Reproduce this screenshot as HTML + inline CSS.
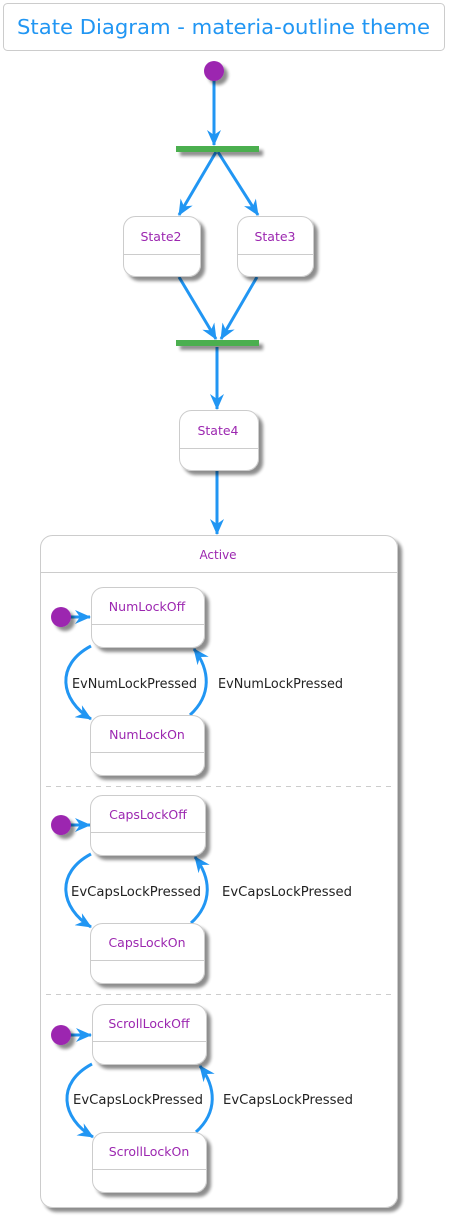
<!DOCTYPE html>
<html><head><meta charset="utf-8"><style>html,body{margin:0;padding:0;background:#fff}svg{display:block}</style></head>
<body>
<svg width="455" height="1218" viewBox="0 0 455 1218" xmlns="http://www.w3.org/2000/svg" font-family="'DejaVu Sans','Liberation Sans',sans-serif">
<defs>
<filter id="sh" x="-20%" y="-20%" width="150%" height="150%"><feGaussianBlur in="SourceAlpha" stdDeviation="1.5"/><feOffset dx="4" dy="4"/><feComponentTransfer><feFuncA type="linear" slope="0.45"/></feComponentTransfer><feMerge><feMergeNode/><feMergeNode in="SourceGraphic"/></feMerge></filter>
<marker id="ah" viewBox="0 0 16 14" refX="15" refY="7" markerWidth="16" markerHeight="14" markerUnits="userSpaceOnUse" orient="auto"><path d="M0,0 L16,7 L0,14 L5,7 Z" fill="#2196F3"/></marker>
</defs>
<rect x="3.5" y="3.5" width="441" height="47" rx="4" fill="#fff" stroke="#ccc"/>
<text x="17" y="34" font-size="20" fill="#2196F3" textLength="413" lengthAdjust="spacingAndGlyphs">State Diagram - materia-outline theme</text>

<g filter="url(#sh)" fill="#fff" stroke="#ccc">
<rect x="40.5" y="535.5" width="357" height="672" rx="12"/>
</g>
<line x1="40.5" y1="572.5" x2="397.5" y2="572.5" stroke="#ccc"/>
<line x1="46" y1="786.5" x2="392" y2="786.5" stroke="#ccc" stroke-dasharray="5,5"/>
<line x1="46" y1="994.5" x2="392" y2="994.5" stroke="#ccc" stroke-dasharray="5,5"/>
<text x="218" y="559" font-size="12" fill="#9C27B0" text-anchor="middle">Active</text>

<g stroke="#2196F3" stroke-width="3" fill="none" marker-end="url(#ah)">
<path d="M214,80 L214,145"/>
<path d="M216,152 L179,215"/>
<path d="M218,152 L258,215"/>
<path d="M179,277 L216,339"/>
<path d="M257,277 L221,339"/>
<path d="M217,347 L217,409"/>
<path d="M217,470 L217,534"/>
<path d="M70,617 L90,617"/>
<path d="M70,825 L90,825"/>
<path d="M70,1035 L91,1035"/>
<path d="M91,646 C55,665 60,700 91,719"/>
<path d="M190,715 C212,695 210,670 194,649"/>
<path d="M91,854 C55,873 60,908 91,927"/>
<path d="M191,923 C213,903 211,878 195,857"/>
<path d="M92,1064 C56,1083 61,1118 93,1137"/>
<path d="M196,1132 C218,1112 216,1087 200,1066"/>
</g>

<g filter="url(#sh)" fill="#9C27B0">
<circle cx="214" cy="71" r="10"/>
<circle cx="61" cy="617" r="10"/>
<circle cx="61" cy="825" r="10"/>
<circle cx="61" cy="1035" r="10"/>
</g>
<g filter="url(#sh)" fill="#4CAF50">
<rect x="176" y="146" width="83" height="6"/>
<rect x="176" y="340" width="83" height="6"/>
</g>

<g filter="url(#sh)" fill="#fff" stroke="#ccc">
<rect x="123.5" y="216.5" width="77" height="60" rx="12"/>
<rect x="237.5" y="216.5" width="76" height="60" rx="12"/>
<rect x="179.5" y="410.5" width="79" height="60" rx="12"/>
<rect x="91.5" y="587.5" width="113" height="60" rx="12"/>
<rect x="90.5" y="715.5" width="114" height="60" rx="12"/>
<rect x="90.5" y="795.5" width="115" height="60" rx="12"/>
<rect x="90.5" y="923.5" width="114" height="60" rx="12"/>
<rect x="92.5" y="1004.5" width="114" height="60" rx="12"/>
<rect x="92.5" y="1132.5" width="114" height="60" rx="12"/>
</g>
<g stroke="#ccc">
<line x1="123.5" y1="254.5" x2="200.5" y2="254.5"/>
<line x1="237.5" y1="254.5" x2="313.5" y2="254.5"/>
<line x1="179.5" y1="448.5" x2="258.5" y2="448.5"/>
<line x1="91.5" y1="624.5" x2="204.5" y2="624.5"/>
<line x1="90.5" y1="752.5" x2="204.5" y2="752.5"/>
<line x1="90.5" y1="832.5" x2="205.5" y2="832.5"/>
<line x1="90.5" y1="960.5" x2="204.5" y2="960.5"/>
<line x1="92.5" y1="1041.5" x2="206.5" y2="1041.5"/>
<line x1="92.5" y1="1169.5" x2="206.5" y2="1169.5"/>
</g>
<g font-size="12.5" fill="#9C27B0" text-anchor="middle">
<text x="161" y="241">State2</text>
<text x="275" y="241">State3</text>
<text x="218" y="435">State4</text>
<text x="147" y="611">NumLockOff</text>
<text x="147" y="739">NumLockOn</text>
<text x="148" y="819">CapsLockOff</text>
<text x="147" y="947">CapsLockOn</text>
<text x="149" y="1028">ScrollLockOff</text>
<text x="149" y="1156">ScrollLockOn</text>
</g>
<g font-size="13" fill="#222">
<text x="72" y="688" textLength="125" lengthAdjust="spacingAndGlyphs">EvNumLockPressed</text>
<text x="218" y="688" textLength="125" lengthAdjust="spacingAndGlyphs">EvNumLockPressed</text>
<text x="71" y="896" textLength="130" lengthAdjust="spacingAndGlyphs">EvCapsLockPressed</text>
<text x="222" y="896" textLength="130" lengthAdjust="spacingAndGlyphs">EvCapsLockPressed</text>
<text x="73" y="1104" textLength="130" lengthAdjust="spacingAndGlyphs">EvCapsLockPressed</text>
<text x="223" y="1104" textLength="130" lengthAdjust="spacingAndGlyphs">EvCapsLockPressed</text>
</g>
</svg>
</body></html>
